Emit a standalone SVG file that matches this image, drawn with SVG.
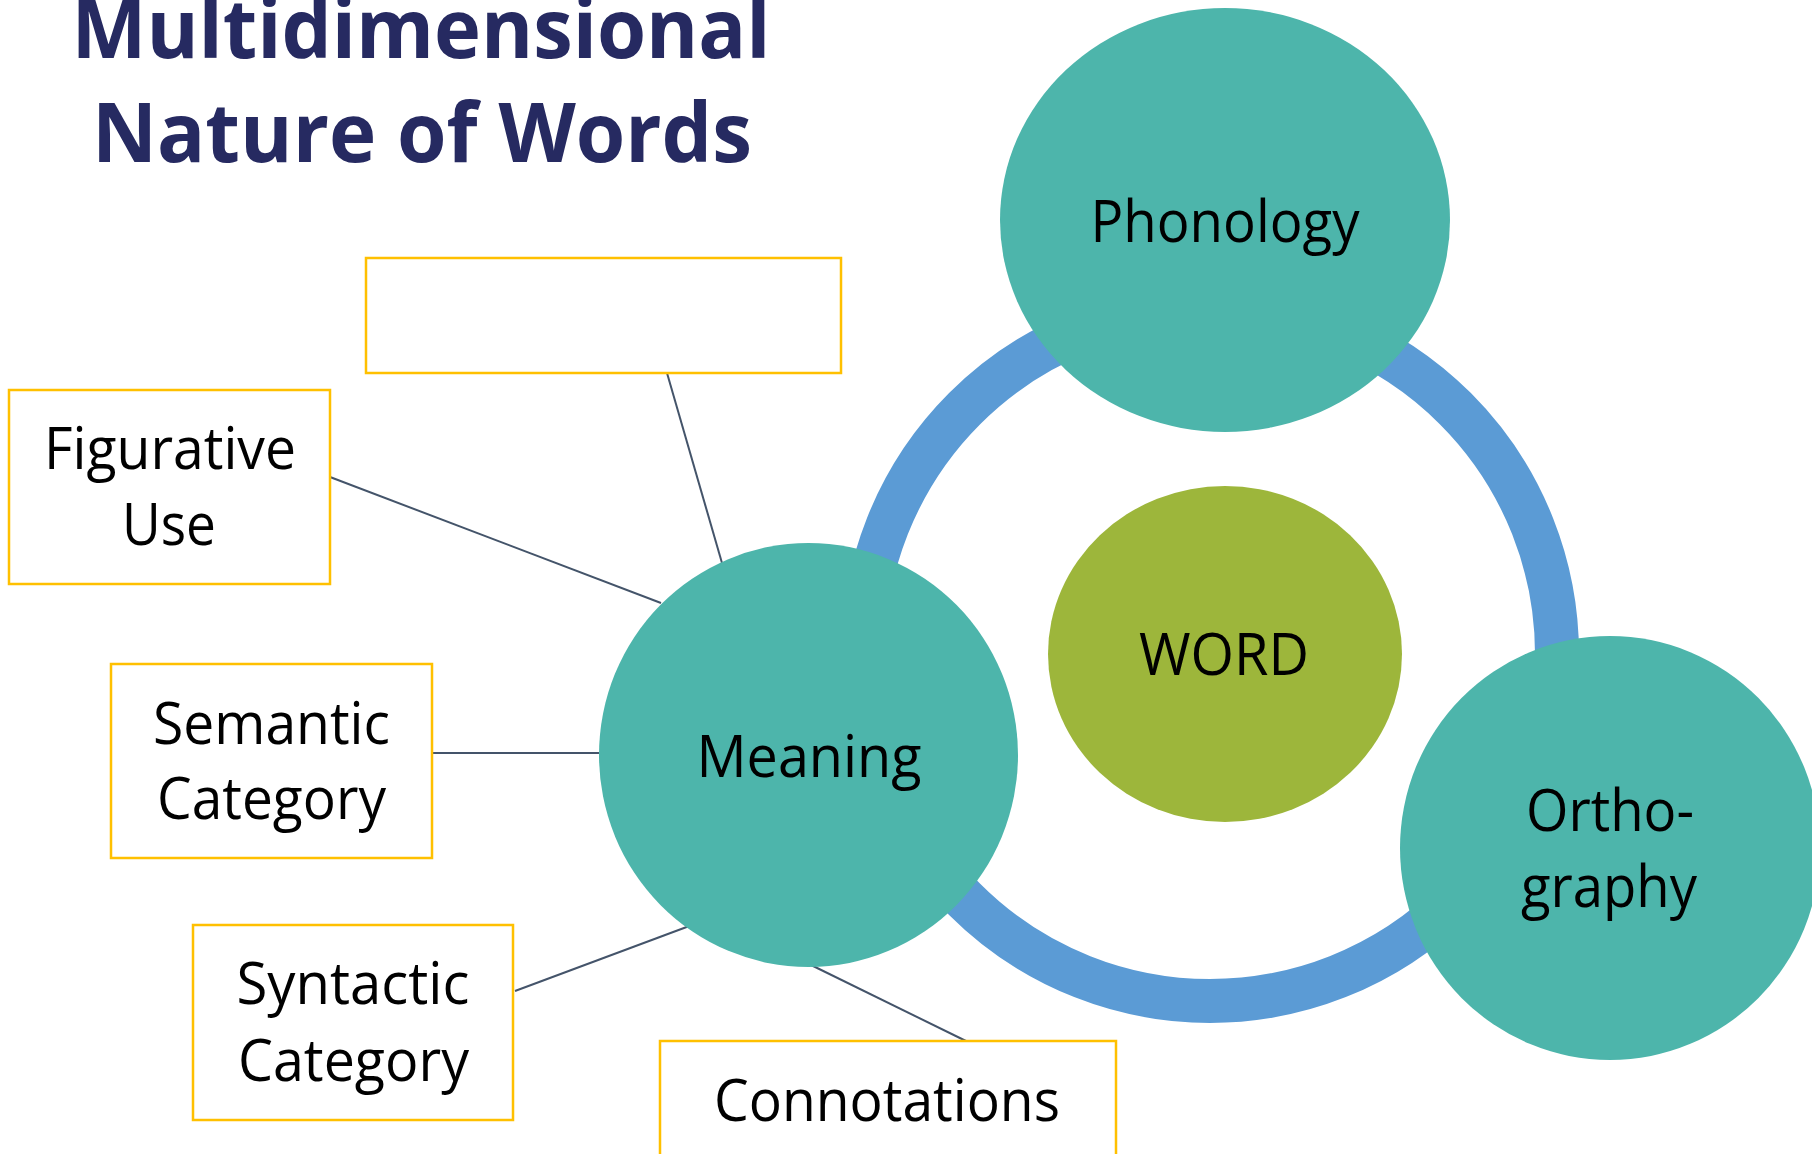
<svg xmlns="http://www.w3.org/2000/svg" width="1812" height="1154" viewBox="0 0 1812 1154">
  <style>
    .title { font-family: "Open Sans", "Liberation Sans", sans-serif; font-weight: 700; font-size: 82px; fill: #262A61; }
    .lbl { font-family: "Open Sans", "Liberation Sans", sans-serif; font-size: 58px; fill: #000000; }
    .facet { fill: #4DB5AB; }
    .core { fill: #9DB63B; }
    .box { fill: #FFFFFF; stroke: #FFC000; stroke-width: 2.5; }
    .link { stroke: #44546A; stroke-width: 2; fill: none; }
    .ring { fill: none; stroke: #5B9BD5; stroke-width: 44; }
  </style>
  <rect width="1812" height="1154" fill="#FFFFFF"/>

  <!-- Heading -->
  <g id="title">
    <text class="title" x="421" y="58" text-anchor="middle" textLength="699" lengthAdjust="spacingAndGlyphs">Multidimensional</text>
    <text class="title" x="422" y="162" text-anchor="middle" textLength="660" lengthAdjust="spacingAndGlyphs">Nature of Words</text>
  </g>

  <!-- Cycle ring behind the three facets -->
  <g id="cycle-ring">
    <circle class="ring" cx="1210" cy="654" r="347"/>
  </g>

  <!-- Connectors from Meaning to its aspect boxes -->
  <g id="connectors">
    <line class="link" x1="667" y1="373" x2="722" y2="563"/>
    <line class="link" x1="330" y1="477" x2="661" y2="603"/>
    <line class="link" x1="432" y1="753" x2="599" y2="753"/>
    <line class="link" x1="515" y1="991" x2="692" y2="925"/>
    <line class="link" x1="809" y1="964" x2="966" y2="1041"/>
  </g>

  <g id="node-word">
    <ellipse class="core" cx="1225" cy="654" rx="177" ry="168"/>
    <text class="lbl" x="1224" y="675" text-anchor="middle" textLength="170" lengthAdjust="spacingAndGlyphs">WORD</text>
  </g>

  <g id="node-phonology">
    <ellipse class="facet" cx="1225" cy="220" rx="225" ry="212"/>
    <text class="lbl" x="1225" y="242" text-anchor="middle" textLength="269" lengthAdjust="spacingAndGlyphs">Phonology</text>
  </g>

  <g id="node-meaning">
    <ellipse class="facet" cx="808.5" cy="755" rx="209.5" ry="212"/>
    <text class="lbl" x="809" y="777" text-anchor="middle" textLength="225" lengthAdjust="spacingAndGlyphs">Meaning</text>
  </g>

  <g id="node-orthography">
    <ellipse class="facet" cx="1610" cy="848" rx="210" ry="212"/>
    <text class="lbl" x="1610" y="831" text-anchor="middle" textLength="168" lengthAdjust="spacingAndGlyphs">Ortho-</text>
    <text class="lbl" x="1609" y="907" text-anchor="middle" textLength="176" lengthAdjust="spacingAndGlyphs">graphy</text>
  </g>

  <g id="node-blank">
    <rect class="box" x="366" y="258" width="475" height="115"/>
  </g>

  <g id="node-figurative">
    <rect class="box" x="9" y="390" width="321" height="194"/>
    <text class="lbl" x="170" y="469" text-anchor="middle" textLength="252" lengthAdjust="spacingAndGlyphs">Figurative</text>
    <text class="lbl" x="169" y="545" text-anchor="middle" textLength="94" lengthAdjust="spacingAndGlyphs">Use</text>
  </g>

  <g id="node-semantic">
    <rect class="box" x="111" y="664" width="321" height="194"/>
    <text class="lbl" x="271.5" y="744" text-anchor="middle" textLength="237" lengthAdjust="spacingAndGlyphs">Semantic</text>
    <text class="lbl" x="271.5" y="819" text-anchor="middle" textLength="229" lengthAdjust="spacingAndGlyphs">Category</text>
  </g>

  <g id="node-syntactic">
    <rect class="box" x="193" y="925" width="320" height="195"/>
    <text class="lbl" x="353" y="1004" text-anchor="middle" textLength="233" lengthAdjust="spacingAndGlyphs">Syntactic</text>
    <text class="lbl" x="353.5" y="1081" text-anchor="middle" textLength="231" lengthAdjust="spacingAndGlyphs">Category</text>
  </g>

  <g id="node-connotations">
    <rect class="box" x="660" y="1041" width="456" height="140"/>
    <text class="lbl" x="887" y="1121" text-anchor="middle" textLength="346" lengthAdjust="spacingAndGlyphs">Connotations</text>
  </g>
</svg>
